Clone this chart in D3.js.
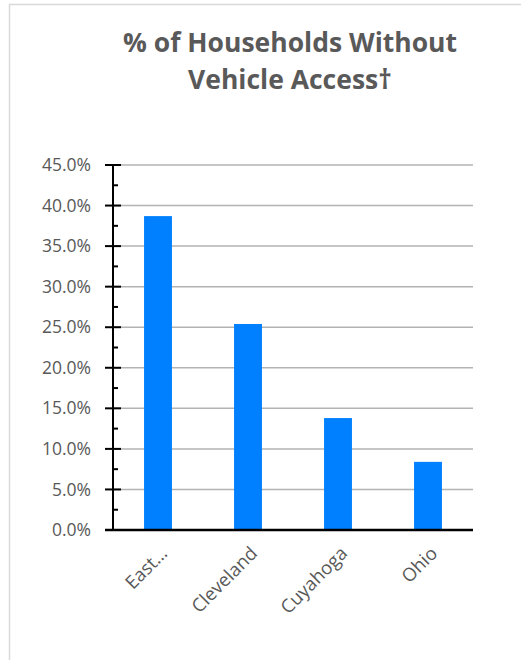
<!DOCTYPE html>
<html><head><meta charset="utf-8">
<script src="https://cdn.jsdelivr.net/npm/d3@7"></script>
<style>body{margin:0;background:#fff;}svg{display:block;}</style>
</head><body>
<svg id="c" width="521" height="660"></svg>
<script>
const categories = ["East…", "Cleveland", "Cuyahoga", "Ohio"];
const values = [38.7, 25.4, 13.8, 8.4];
const yTicks = [0, 5, 10, 15, 20, 25, 30, 35, 40, 45];
const titleLines = ["% of Households Without", "Vehicle Access†"];

(function(){
const svg = d3.select("#c");
const font = "'Open Sans', 'Liberation Sans', sans-serif";
const textCol = "#595959";

svg.append("path").attr("d", "M9.5,660 L9.5,4.5 L521,4.5").attr("fill","none").attr("stroke","#d9d9d9").attr("stroke-width",1.5);

const pLeft = 113, pRight = 473, pTop = 165, pBottom = 530;
const x = d3.scaleBand().domain(categories).range([pLeft, pRight]).paddingInner(0.69).paddingOuter(0.345);
const y = d3.scaleLinear().domain([0, 45]).range([pBottom, pTop]);

svg.append("g").selectAll("line").data(yTicks.filter(d => d > 0)).join("line")
  .attr("x1", pLeft).attr("x2", pRight).attr("y1", d => y(d)).attr("y2", d => y(d))
  .attr("stroke", "#b3b3b3").attr("stroke-width", 1.5);

svg.append("g").selectAll("rect").data(categories).join("rect")
  .attr("x", d => x(d)).attr("width", x.bandwidth())
  .attr("y", (d, i) => y(values[i])).attr("height", (d, i) => y(0) - y(values[i]))
  .attr("fill", "#0080ff");

const yAxis = d3.axisLeft(y).tickValues(yTicks).tickSize(0).tickFormat(d => d.toFixed(1) + "%");
const ya = svg.append("g").attr("transform", `translate(${pLeft},0)`).call(yAxis);
ya.select(".domain").remove();
ya.selectAll("text").attr("x", -22).attr("fill", textCol).style("font-family", font).style("font-size", "17.5px");
svg.append("line").attr("x1", pLeft).attr("x2", pLeft).attr("y1", pTop).attr("y2", pBottom).attr("stroke", "#000").attr("stroke-width", 2);
svg.append("g").selectAll("line").data(yTicks).join("line")
  .attr("x1", pLeft - 8).attr("x2", pLeft + 8).attr("y1", d => y(d)).attr("y2", d => y(d))
  .attr("stroke", "#000").attr("stroke-width", 2);
svg.append("g").selectAll("line").data(yTicks.slice(0, -1).map(d => d + 2.5)).join("line")
  .attr("x1", pLeft).attr("x2", pLeft + 5).attr("y1", d => y(d)).attr("y2", d => y(d))
  .attr("stroke", "#000").attr("stroke-width", 2);

svg.append("line").attr("x1", 105).attr("x2", pRight).attr("y1", pBottom).attr("y2", pBottom).attr("stroke", "#000").attr("stroke-width", 2.5);
const xa = svg.append("g").attr("transform", `translate(0,${pBottom})`).call(d3.axisBottom(x).tickSize(0));
xa.select(".domain").remove();
xa.selectAll("text")
  .attr("text-anchor", "end")
  .attr("transform", `translate(${x.bandwidth()/2 - 8},20) rotate(-45)`)
  .attr("x", 0).attr("y", 0).attr("dy", "0.35em")
  .attr("fill", textCol).style("font-family", font).style("font-size", "18.5px");

svg.append("g").selectAll("text").data(titleLines).join("text")
  .attr("x", 290).attr("y", (d, i) => 52 + i * 37)
  .attr("text-anchor", "middle").attr("fill", textCol)
  .style("font-family", font).style("font-size", "26.5px").style("font-weight", "bold")
  .text(d => d);
})();
</script>
</body></html>
